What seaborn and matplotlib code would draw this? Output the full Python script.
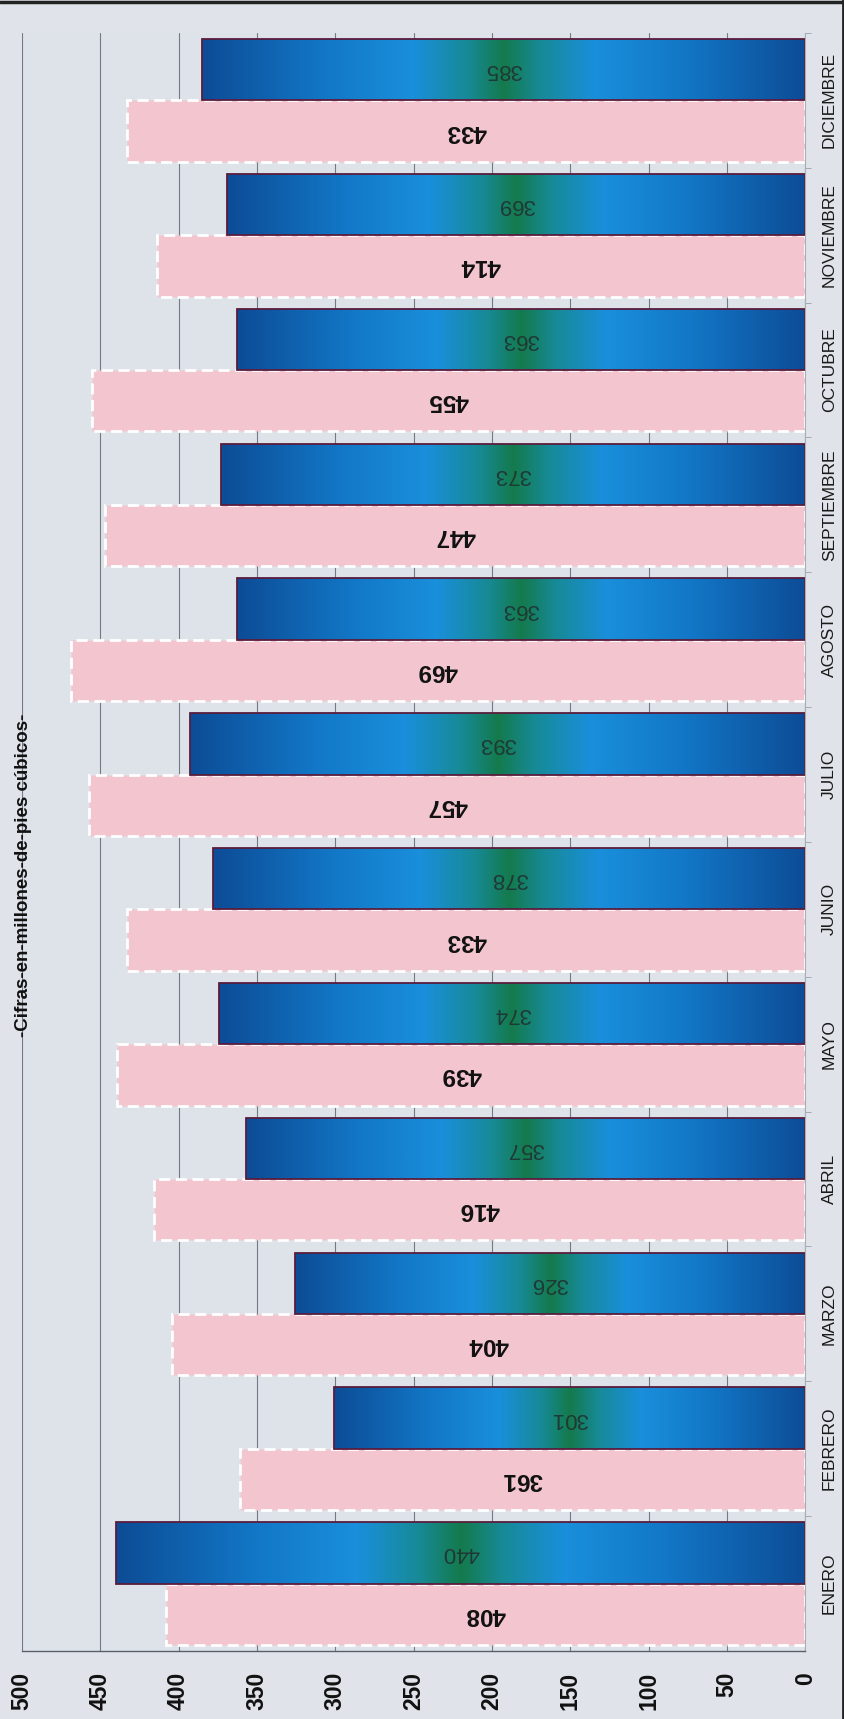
import numpy as np
import pandas as pd
import seaborn as sns
import matplotlib.pyplot as plt
from matplotlib.colors import LinearSegmentedColormap

# datos del grafico (millones de pies cubicos)
meses = ['ENERO', 'FEBRERO', 'MARZO', 'ABRIL', 'MAYO', 'JUNIO', 'JULIO',
         'AGOSTO', 'SEPTIEMBRE', 'OCTUBRE', 'NOVIEMBRE', 'DICIEMBRE']
valores_rosa = [408, 361, 404, 416, 439, 433, 457, 469, 447, 455, 414, 433]
valores_azul = [440, 301, 326, 357, 374, 378, 393, 363, 373, 363, 369, 385]
ticks_valor = [0, 50, 100, 150, 200, 250, 300, 350, 400, 450, 500]
titulo = '-Cifras-en-millones-de-pies cúbicos-'

df = pd.DataFrame({
    'mes': meses * 2,
    'serie': ['rosa'] * len(meses) + ['azul'] * len(meses),
    'valor': valores_rosa + valores_azul,
})

sns.set_style('white')
plt.rcParams['font.family'] = ['Liberation Sans', 'DejaVu Sans']

fondo = '#e0e4ea'
fig = plt.figure(figsize=(8.44, 17.19), dpi=100, facecolor=fondo)
ax = fig.add_axes([0.026, 0.0396, 0.928, 0.9412])
ax.set_facecolor('#dee3ea')

sns.barplot(data=df, y='mes', x='valor', hue='serie', order=meses,
            hue_order=['rosa', 'azul'],
            palette={'rosa': '#f3c6cf', 'azul': '#1565b0'},
            orient='h', width=0.91, saturation=1, errorbar=None,
            legend=False, ax=ax)

# eje de valores invertido (0 a la derecha), ENERO abajo
ax.set_xlim(500, 0)
ax.set_ylim(-0.5, len(meses) - 0.5)

# barras rosas: borde blanco discontinuo
for p in ax.containers[0]:
    p.set_edgecolor('white')
    p.set_linestyle((0, (4, 2)))
    p.set_linewidth(2)

# barras azules con degradado
cmap = LinearSegmentedColormap.from_list('azul', [
    (0.0, '#0d4c96'), (0.2, '#1277c6'), (0.35, '#1a8fdb'),
    (0.44, '#178a96'), (0.5, '#147a4c'), (0.56, '#178a96'),
    (0.65, '#1a8fdb'), (0.8, '#1277c6'), (1.0, '#0d4c96')])
grad = np.linspace(0, 1, 256)[None, :]
for p in ax.containers[1]:
    x0, y0, w, h = p.get_x(), p.get_y(), p.get_width(), p.get_height()
    im = ax.imshow(grad, extent=[x0, x0 + w, y0, y0 + h], aspect='auto',
                   cmap=cmap, zorder=2, interpolation='bicubic')
    im.set_clip_path(p)
    p.set_facecolor('none')
    p.set_edgecolor('#5a1c3c')
    p.set_linewidth(1.3)
    p.set_zorder(2.5)

ax.set_xlim(500, 0)
ax.set_ylim(-0.5, len(meses) - 0.5)

# etiquetas de valor, giradas 180
ax.bar_label(ax.containers[0], labels=[str(v) for v in valores_rosa],
             label_type='center', rotation=180, fontsize=17.5,
             fontweight='bold', color='#111111', zorder=4)
ax.bar_label(ax.containers[1], labels=[str(v) for v in valores_azul],
             label_type='center', rotation=180, fontsize=16,
             color='#1f3a36', zorder=4)

# rejilla y ejes
ax.set_xticks(ticks_valor)
ax.set_xticklabels([str(t) for t in ticks_valor], rotation=90,
                   fontsize=16.5, fontweight='bold', color='#111111')
ax.grid(axis='x', color='#737a84', linewidth=0.8)
ax.grid(axis='y', visible=False)
ax.set_axisbelow(True)
ax.tick_params(axis='x', direction='out', length=5, width=1,
               color='#5a5e66', pad=10)

ax.yaxis.tick_right()
ax.set_yticks(range(len(meses)))
ax.set_yticklabels(meses, rotation=90, va='center', fontsize=12.5,
                   color='#1a1a1a')
ax.tick_params(axis='y', length=0, pad=12)
ax.set_yticks(np.arange(len(meses)) + 0.5, minor=True)
ax.tick_params(axis='y', which='minor', direction='out', length=4,
               color='#9aa0a8', right=True, left=False)
ax.set_xlabel('')
ax.set_ylabel('')

for lado in ['top', 'left']:
    ax.spines[lado].set_visible(False)
ax.spines['bottom'].set_color('#5a5e66')
ax.spines['bottom'].set_linewidth(1)
ax.spines['right'].set_color('#a8aeb6')
ax.spines['right'].set_linewidth(0.8)

fig.text(24 / 844, 1 - 875 / 1719, titulo, rotation=90, ha='center',
         va='center', fontsize=13.5, fontweight='bold', color='#111111')

# marco del escaneo (arriba y derecha)
fig.add_artist(plt.Line2D([0, 1], [0.9988, 0.9988], transform=fig.transFigure,
                          color='#222222', linewidth=2.5))
fig.add_artist(plt.Line2D([0.9992, 0.9992], [0, 1], transform=fig.transFigure,
                          color='#222222', linewidth=2))

fig.savefig('out.png', dpi=100, facecolor=fig.get_facecolor())
